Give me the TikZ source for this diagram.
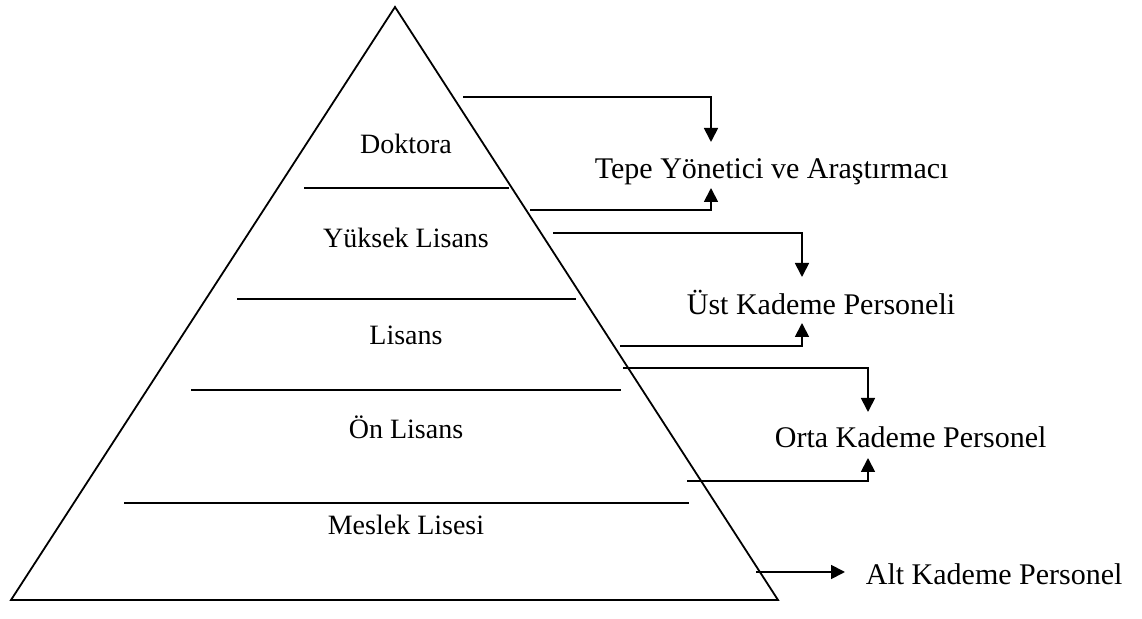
\documentclass[tikz,border=0pt]{standalone}
\usepackage{fontspec}
\setmainfont{Liberation Serif}
\usetikzlibrary{arrows.meta, positioning}

\tikzset{
  level/.style={anchor=base, font=\fontsize{14}{16}\selectfont, inner sep=0pt},
  group/.style={anchor=base west, font=\fontsize{15}{18}\selectfont, inner sep=0pt},
  link/.style={-{Triangle[length=7pt, width=7pt]}, line width=0.9pt}
}

\begin{document}
\begin{tikzpicture}[x=0.5pt, y=-0.5pt, line width=0.9pt]
\useasboundingbox (0,0) rectangle (1142,619);

% pyramid
\coordinate (apex) at (395,7);
\coordinate (bl) at (11,600);
\coordinate (br) at (778,600);
\draw[line join=miter] (apex) -- (br) -- (bl) -- cycle;

\draw (304,188) -- (509,188);
\draw (237,299) -- (576,299);
\draw (191,390) -- (621,390);
\draw (124,503) -- (689,503);

\node at (406,154) (doktora) [level] {Doktora};
\node at (406,248) (yuksek) [level] {Yüksek Lisans};
\node at (406,345) (lisans) [level] {Lisans};
\node at (406,439) (onlisans) [level] {Ön Lisans};
\node at (406,535) (meslek) [level] {Meslek Lisesi};

% staff groups
\node at (594,179) (tepe) [group] {Tepe Yönetici ve Araştırmacı};
\node at (686,315) (ust) [group] {Üst Kademe Personeli};
\node at (774,448) (orta) [group] {Orta Kademe Personel};
\node at (865,585) (alt) [group] {Alt Kademe Personel};

% connectors
\coordinate (d1) at (463,97);   \coordinate (t1) at (711,142);
\coordinate (y1) at (530,210);  \coordinate (t2) at (711,188);
\coordinate (y2) at (553,233);  \coordinate (u1) at (802,277);
\coordinate (l1) at (620,346);  \coordinate (u2) at (802,323);
\coordinate (l2) at (623,368);  \coordinate (o1) at (868,412);
\coordinate (n1) at (687,481);  \coordinate (o2) at (868,458);
\coordinate (m1) at (756,572);  \coordinate (a1) at (845,572);

\draw[link] (d1) -| (t1);
\draw[link] (y1) -| (t2);
\draw[link] (y2) -| (u1);
\draw[link] (l1) -| (u2);
\draw[link] (l2) -| (o1);
\draw[link] (n1) -| (o2);
\draw[link] (m1) -- (a1);
\end{tikzpicture}
\end{document}
